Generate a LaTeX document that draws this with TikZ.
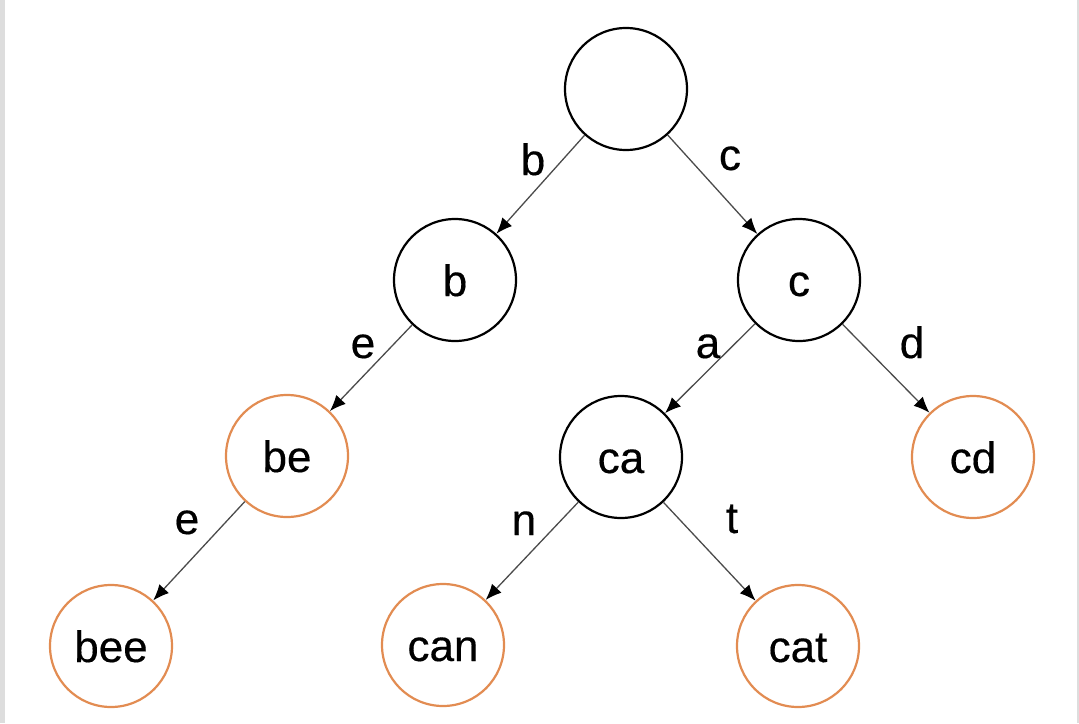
\documentclass[tikz,border=0pt]{standalone}
\usepackage{fontspec}
\setmainfont{Liberation Sans}
\newfontfamily\heavyfont[FakeBold=0.35]{Liberation Sans}
\usetikzlibrary{arrows.meta}
\definecolor{leaf}{RGB}{226,140,82}
\definecolor{edgegray}{RGB}{75,75,75}
\definecolor{stripgray}{RGB}{221,221,221}
\tikzset{
  trie/.style={circle, draw=black, line width=2.2pt, minimum size=122pt, inner sep=0pt,
    font=\heavyfont\fontsize{44}{50}\selectfont, text height=32pt, text depth=0pt},
  leafnode/.style={trie, draw=leaf},
  edgearrow/.style={draw=edgegray, line width=1.3pt, -{Latex[length=16pt,width=13pt,color=black]}},
  lbl/.style={font=\heavyfont\fontsize{44}{50}\selectfont, anchor=base, inner sep=0pt}
}
\begin{document}
\begin{tikzpicture}[x=1pt,y=-1pt]
\useasboundingbox (0,0) rectangle (1079,723);
\fill[stripgray] (0,0) rectangle (5,723);
\fill[stripgray] (1077,0) rectangle (1079,723);

\node[trie] (root) at (626,89) {};
\node[trie] (b) at (455,280) {b};
\node[trie] (c) at (799,280) {c};
\node[leafnode] (be) at (287,456) {be};
\node[trie] (ca) at (621,457) {ca};
\node[leafnode] (cd) at (973,457) {cd};
\node[leafnode] (bee) at (111,646) {bee};
\node[leafnode] (can) at (443,645) {can};
\node[leafnode] (cat) at (798,646) {cat};

\draw[edgearrow] (root) -- (b);
\draw[edgearrow] (root) -- (c);
\draw[edgearrow] (b) -- (be);
\draw[edgearrow] (c) -- (ca);
\draw[edgearrow] (c) -- (cd);
\draw[edgearrow] (be) -- (bee);
\draw[edgearrow] (ca) -- (can);
\draw[edgearrow] (ca) -- (cat);

\node[lbl] (lb) at (533,175) {b};
\node[lbl] (lc) at (730,170) {c};
\node[lbl] (le1) at (363,358) {e};
\node[lbl] (la) at (708,358) {a};
\node[lbl] (ld) at (912,358) {d};
\node[lbl] (le2) at (187,534) {e};
\node[lbl] (ln) at (524,535) {n};
\node[lbl] (lt) at (732,533) {t};
\end{tikzpicture}
\end{document}
